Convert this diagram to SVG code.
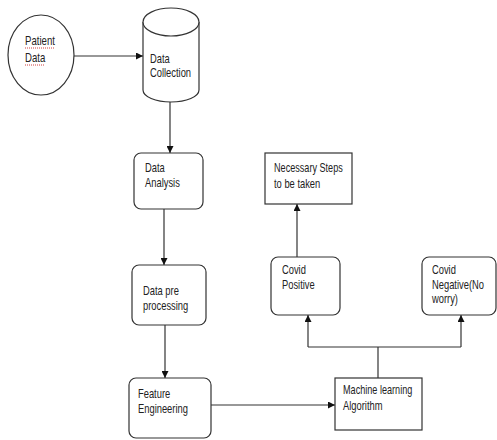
<svg xmlns="http://www.w3.org/2000/svg" width="497" height="440" viewBox="0 0 497 440">
<defs>
<style>
.shape{fill:#fff;stroke:#333;stroke-width:1.2}
.conn{fill:none;stroke:#333;stroke-width:1.2}
text{font-family:"Liberation Sans",Arial,sans-serif;font-size:13px;fill:#222}
.sq{stroke:#d04040;stroke-width:1;stroke-dasharray:1 1;fill:none}
</style>
<marker id="ah" viewBox="0 0 10 10" refX="10" refY="5" markerWidth="7" markerHeight="7" markerUnits="userSpaceOnUse" orient="auto">
<path d="M0,0 L10,5 L0,10 Z" fill="#111"/>
</marker>
</defs>
<rect width="497" height="440" fill="#fff"/>
<g id="connectors">
<line class="conn" x1="74" y1="56" x2="143" y2="56" marker-end="url(#ah)"/>
<line class="conn" x1="170" y1="101" x2="170" y2="153" marker-end="url(#ah)"/>
<line class="conn" x1="164" y1="209" x2="164" y2="265" marker-end="url(#ah)"/>
<line class="conn" x1="165" y1="325" x2="165" y2="378" marker-end="url(#ah)"/>
<line class="conn" x1="211" y1="405" x2="335" y2="405" marker-end="url(#ah)"/>
<line class="conn" x1="378" y1="378" x2="378" y2="347"/>
<polyline class="conn" points="308,347 461,347"/>
<line class="conn" x1="308" y1="347" x2="308" y2="315" marker-end="url(#ah)"/>
<line class="conn" x1="461" y1="347" x2="461" y2="315" marker-end="url(#ah)"/>
<line class="conn" x1="297" y1="257" x2="297" y2="204" marker-end="url(#ah)"/>
</g>
<g id="patient-data">
<ellipse class="shape" cx="41" cy="55" rx="33" ry="40"/>
<text transform="translate(25,45) scale(0.74,1)">Patient</text>
<text transform="translate(25,62) scale(0.74,1)">Data</text>
<path class="sq" d="M25,48 H55 M25,65 H44"/>
</g>
<g id="data-collection">
<path class="shape" d="M143,22 V90 A28,12 0 0 0 199,90 V22"/>
<ellipse class="shape" cx="171" cy="22" rx="28" ry="14"/>
<text transform="translate(150,63) scale(0.72,1)">Data</text>
<text transform="translate(150,77) scale(0.72,1)">Collection</text>
</g>
<g id="data-analysis">
<rect class="shape" x="134" y="153" width="69" height="56" rx="7"/>
<text transform="translate(145,172) scale(0.72,1)">Data</text>
<text transform="translate(145,187) scale(0.72,1)">Analysis</text>
</g>
<g id="data-preprocessing">
<rect class="shape" x="132" y="265" width="74" height="60" rx="7"/>
<text transform="translate(143,295) scale(0.72,1)">Data pre</text>
<text transform="translate(143,310) scale(0.72,1)">processing</text>
</g>
<g id="feature-engineering">
<rect class="shape" x="129" y="378" width="82" height="60" rx="7"/>
<text transform="translate(138,398) scale(0.72,1)">Feature</text>
<text transform="translate(138,413) scale(0.72,1)">Engineering</text>
</g>
<g id="ml-algorithm">
<rect class="shape" x="335" y="378" width="87" height="52"/>
<text transform="translate(343,394) scale(0.70,1)">Machine learning</text>
<text transform="translate(343,410) scale(0.72,1)">Algorithm</text>
</g>
<g id="covid-positive">
<rect class="shape" x="271" y="257" width="69" height="58" rx="7"/>
<text transform="translate(282,274) scale(0.72,1)">Covid</text>
<text transform="translate(282,289) scale(0.72,1)">Positive</text>
</g>
<g id="covid-negative">
<rect class="shape" x="422" y="257" width="74" height="58" rx="7"/>
<text transform="translate(432,274) scale(0.72,1)">Covid</text>
<text transform="translate(432,289) scale(0.72,1)">Negative(No</text>
<text transform="translate(432,303) scale(0.72,1)">worry)</text>
</g>
<g id="necessary-steps">
<rect class="shape" x="265" y="153" width="87" height="51"/>
<text transform="translate(274,172) scale(0.70,1)">Necessary Steps</text>
<text transform="translate(274,188) scale(0.72,1)">to be taken</text>
</g>
</svg>
